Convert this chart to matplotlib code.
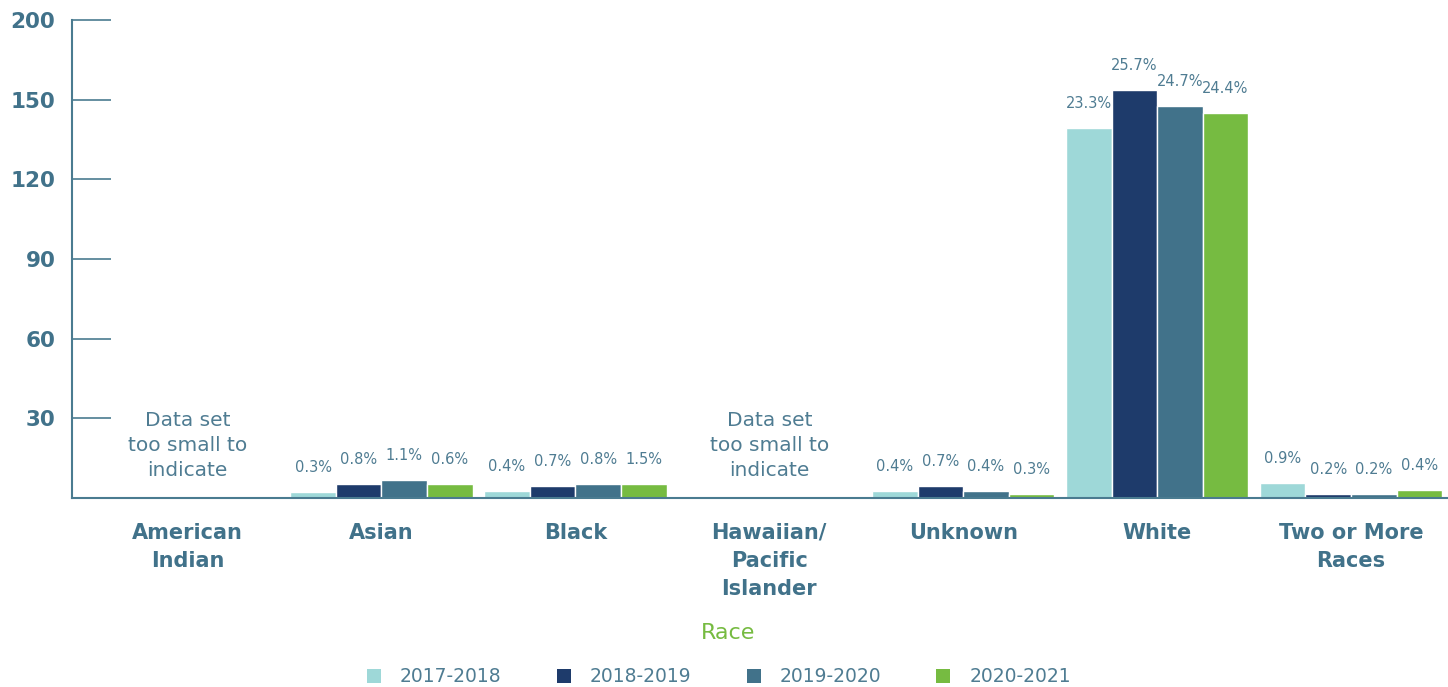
import matplotlib
matplotlib.use("Agg")
import matplotlib.pyplot as plt
from matplotlib.patches import Patch
import numpy as np

plt.rcParams['font.family'] = ['DejaVu Sans']

categories = ["American\nIndian", "Asian", "Black", "Hawaiian/\nPacific\nIslander",
              "Unknown", "White", "Two or More\nRaces"]
years = ["2017-2018", "2018-2019", "2019-2020", "2020-2021"]

# counts per year, by category (None = data set too small)
counts = {
    "2017-2018": [None, 2.3, 2.6, None, 2.6, 139.5, 5.7],
    "2018-2019": [None, 5.3, 4.5, None, 4.5, 153.7, 1.5],
    "2019-2020": [None, 6.8, 5.3, None, 2.6, 147.7, 1.5],
    "2020-2021": [None, 5.3, 5.3, None, 1.5, 145.0, 3.0],
}
pct_labels = {
    "2017-2018": [None, "0.3%", "0.4%", None, "0.4%", "23.3%", "0.9%"],
    "2018-2019": [None, "0.8%", "0.7%", None, "0.7%", "25.7%", "0.2%"],
    "2019-2020": [None, "1.1%", "0.8%", None, "0.4%", "24.7%", "0.2%"],
    "2020-2021": [None, "0.6%", "1.5%", None, "0.3%", "24.4%", "0.4%"],
}
ytick_values = [30, 60, 90, 120, 150, 180]
ytick_labels = ["30", "60", "90", "120", "150", "200"]
small_note = "Data set\ntoo small to\nindicate"

colors = ["#9ed8d8", "#1e3b6b", "#41728a", "#76bb41"]
axis_color = "#4a7b90"
text_color = "#41728a"
label_color = "#4f7c92"

fig = plt.figure(figsize=(14.48, 6.87), dpi=100)
ax = fig.add_axes([72 / 1448, 1 - 498 / 687, 1 - 72 / 1448, (498 - 20) / 687])

x = np.arange(len(categories))
bw = 0.235
for i, yr in enumerate(years):
    offs = (i - 1.5) * bw
    for j, v in enumerate(counts[yr]):
        if v is None:
            continue
        ax.bar(x[j] + offs, v, width=bw, color=colors[i], edgecolor="white",
               linewidth=1.0, zorder=2)
        ax.annotate(pct_labels[yr][j], (x[j] + offs, v), xytext=(0, 12),
                    textcoords="offset points", ha="center", va="bottom",
                    fontsize=10.5, color=label_color)

for j, c in enumerate(categories):
    if counts[years[0]][j] is None:
        ax.text(x[j], 19.8, small_note, ha="center", va="center",
                fontsize=14.5, color=label_color, linespacing=1.4)

ax.set_xlim(-0.596, 6.5)
ax.set_ylim(0, 180)
ax.set_yticks(ytick_values)
ax.set_yticklabels(ytick_labels, fontsize=15.5, fontweight="bold", color=text_color)
ax.tick_params(axis="y", direction="in", length=28, width=1.2, color=axis_color, pad=12)
ax.set_xticks(x)
ax.set_xticklabels(categories, fontsize=15, fontweight="bold", color=text_color,
                   linespacing=1.5, va="top")
ax.tick_params(axis="x", length=0, pad=18)

for s in ["top", "right"]:
    ax.spines[s].set_visible(False)
for s in ["left", "bottom"]:
    ax.spines[s].set_color(axis_color)
    ax.spines[s].set_linewidth(1.5)

fig.text(728 / 1448, 1 - 633 / 687, "Race", ha="center", va="center",
         fontsize=16, color="#76bb41")

handles = [Patch(facecolor=c, edgecolor="none") for c in colors]
fig.legend(handles, years, loc="center", bbox_to_anchor=(719 / 1448, 1 - 677 / 687),
           ncol=4, frameon=False, fontsize=13.5, labelcolor=label_color,
           handlelength=0.75, handleheight=0.75, handletextpad=1.0, columnspacing=2.95)

fig.savefig("out.png", dpi=100)
